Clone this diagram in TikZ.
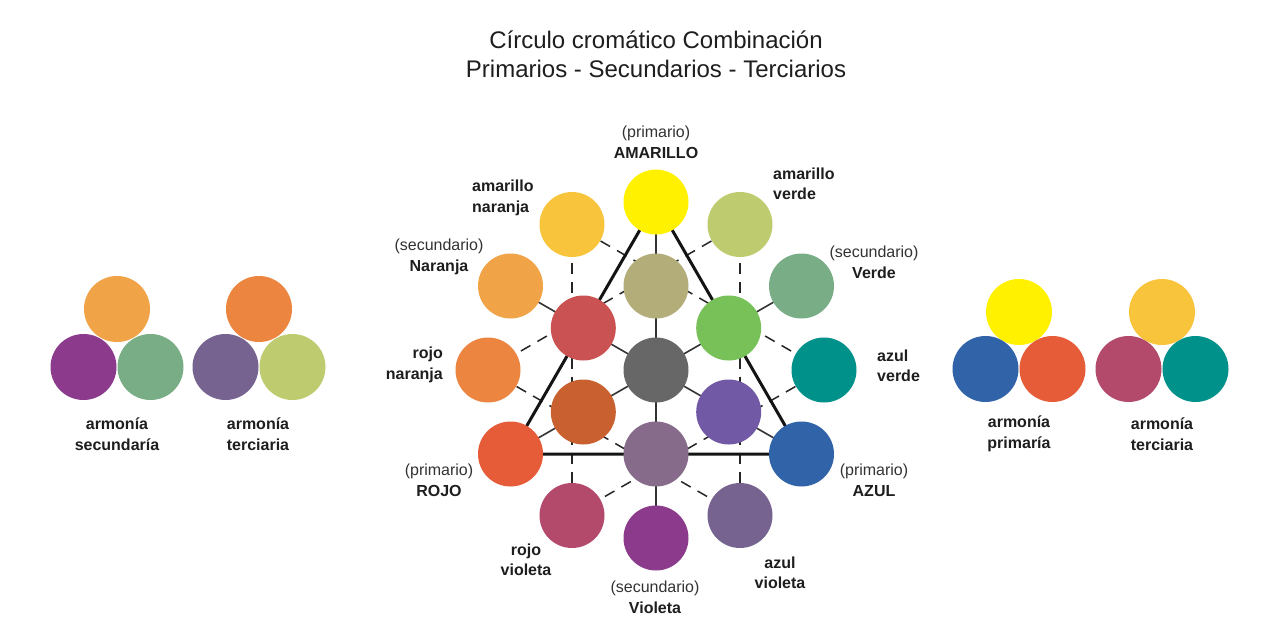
\documentclass[tikz,border=0pt]{standalone}
\usepackage{fontspec}
\setmainfont{Liberation Sans}
\usetikzlibrary{backgrounds}
\definecolor{cYel}{HTML}{FFF100}
\definecolor{cAN}{HTML}{F8C43C}
\definecolor{cAV}{HTML}{BECB6E}
\definecolor{cNar}{HTML}{F1A447}
\definecolor{cVer}{HTML}{79AD86}
\definecolor{cRN}{HTML}{EC8540}
\definecolor{cAzV}{HTML}{00928A}
\definecolor{cRojo}{HTML}{E65C38}
\definecolor{cAzul}{HTML}{3063A8}
\definecolor{cRV}{HTML}{B34A6B}
\definecolor{cAzVi}{HTML}{766390}
\definecolor{cVio}{HTML}{8B3A8C}
\definecolor{cOli}{HTML}{B3AE79}
\definecolor{cRin}{HTML}{CA5252}
\definecolor{cGin}{HTML}{78C159}
\definecolor{cGray}{HTML}{676767}
\definecolor{cBrown}{HTML}{C8612F}
\definecolor{cPurp}{HTML}{7259A6}
\definecolor{cMauve}{HTML}{866C8A}
\definecolor{txt}{HTML}{1E1E1E}
\definecolor{txtl}{HTML}{333333}
\begin{document}
\begin{tikzpicture}[x=1pt,y=-1pt,
  dot/.style={circle, inner sep=0pt, minimum size=65pt, draw=none},
  hdot/.style={circle, inner sep=0pt, minimum size=66pt, draw=none},
  lbl/.style={font=\fontsize{16}{20.5}\selectfont\bfseries, text=txt, inner sep=0pt},
  plbl/.style={font=\fontsize{16}{21}\selectfont, text=txtl, align=center, inner sep=0pt},
  ttl/.style={font=\fontsize{24}{29}\selectfont, text=txt, align=center, inner sep=0pt},
  thinline/.style={draw=black!80, line width=1.6pt},
  dashline/.style={draw=black!85, line width=1.5pt, dash pattern=on 11pt off 8pt},
  triline/.style={draw=black!92, line width=3pt, line join=miter}]
\useasboundingbox (0,0) rectangle (1280,640);

% title
\node[ttl] (title) at (656,54) {Círculo cromático Combinación\\Primarios - Secundarios - Terciarios};

% outer ring
\node[dot, fill=cYel]  (yel)  at (656,202) {};
\node[dot, fill=cAV]   (av)   at (740,224.5) {};
\node[dot, fill=cVer]  (ver)  at (801.5,286) {};
\node[dot, fill=cAzV]  (azv)  at (824,370) {};
\node[dot, fill=cAzul] (azul) at (801.5,454) {};
\node[dot, fill=cAzVi] (azvi) at (740,515.5) {};
\node[dot, fill=cVio]  (vio)  at (656,538) {};
\node[dot, fill=cRV]   (rv)   at (572,515.5) {};
\node[dot, fill=cRojo] (rojo) at (510.5,454) {};
\node[dot, fill=cRN]   (rn)   at (488,370) {};
\node[dot, fill=cNar]  (nar)  at (510.5,286) {};
\node[dot, fill=cAN]   (an)   at (572,224.5) {};
% inner
\node[dot, fill=cOli]   (oli)   at (656,286) {};
\node[dot, fill=cGin]   (gin)   at (728.7,328) {};
\node[dot, fill=cPurp]  (purp)  at (728.7,412) {};
\node[dot, fill=cMauve] (mauve) at (656,454) {};
\node[dot, fill=cBrown] (brown) at (583.3,412) {};
\node[dot, fill=cRin]   (rin)   at (583.3,328) {};
\node[dot, fill=cGray]  (gray)  at (656,370) {};

\begin{scope}[on background layer]
  \fill[white] (0,0) rectangle (1280,640);
  % dashed hexagram
  \draw[dashline] (an.center) -- (rv.center);
  \draw[dashline] (rv.center) -- (azv.center);
  \draw[dashline] (azv.center) -- (an.center);
  \draw[dashline] (av.center) -- (azvi.center);
  \draw[dashline] (azvi.center) -- (rn.center);
  \draw[dashline] (rn.center) -- (av.center);
  % thin spokes
  \draw[thinline] (gray.center) -- (yel.center);
  \draw[thinline] (gray.center) -- (ver.center);
  \draw[thinline] (gray.center) -- (azul.center);
  \draw[thinline] (gray.center) -- (vio.center);
  \draw[thinline] (gray.center) -- (rojo.center);
  \draw[thinline] (gray.center) -- (nar.center);
  % primary triangle
  \draw[triline] (yel.center) -- (rojo.center) -- (azul.center) -- cycle;
\end{scope}

% labels of the wheel
\node[plbl] (lAma) at (656,142) {(primario)\\\textbf{\textcolor{txt}{AMARILLO}}};
\node[lbl, align=left, anchor=west] (lAN) at (472,198) {amarillo\\naranja};
\node[lbl, align=left, anchor=west] (lAV) at (773,184) {amarillo\\verde};
\node[plbl] (lNar) at (439,257) {(secundario)\\\textbf{\textcolor{txt}{Naranja}}};
\node[lbl, align=right, anchor=east] (lRN) at (443,365) {rojo\\naranja};
\node[plbl] (lRojo) at (439,480) {(primario)\\\textbf{\textcolor{txt}{ROJO}}};
\node[plbl] (lVer) at (874,262) {(secundario)\\\textbf{\textcolor{txt}{Verde}}};
\node[lbl, align=left, anchor=west] (lAzV) at (877,366) {azul\\verde};
\node[plbl] (lAzul) at (874,480) {(primario)\\\textbf{\textcolor{txt}{AZUL}}};
\node[lbl, align=center] (lRV) at (526,560) {rojo\\violeta};
\node[plbl] (lVio) at (655,597) {(secundario)\\\textbf{\textcolor{txt}{Violeta}}};
\node[lbl, align=center] (lAzVi) at (780,573) {azul\\violeta};

% harmony groups left
\node[hdot, fill=cNar] (h1t) at (117,309) {};
\node[hdot, fill=cVio] (h1l) at (83.5,367) {};
\node[hdot, fill=cVer] (h1r) at (150.5,367) {};
\node[lbl, align=center] (h1lab) at (117,434) {armonía\\secundaría};

\node[hdot, fill=cRN] (h2t) at (259,309) {};
\node[hdot, fill=cAzVi] (h2l) at (225.5,367) {};
\node[hdot, fill=cAV] (h2r) at (292.5,367) {};
\node[lbl, align=center] (h2lab) at (258,434) {armonía\\terciaria};

% harmony groups right
\node[hdot, fill=cYel] (h3t) at (1019,312) {};
\node[hdot, fill=cAzul] (h3l) at (985.5,369) {};
\node[hdot, fill=cRojo] (h3r) at (1052.5,369) {};
\node[lbl, align=center] (h3lab) at (1019,434) {armonía\\primaría};

\node[hdot, fill=cAN] (h4t) at (1162,312) {};
\node[hdot, fill=cRV] (h4l) at (1128.5,369) {};
\node[hdot, fill=cAzV] (h4r) at (1195.5,369) {};
\node[lbl, align=center] (h4lab) at (1162,434) {armonía\\terciaria};
\end{tikzpicture}
\end{document}
